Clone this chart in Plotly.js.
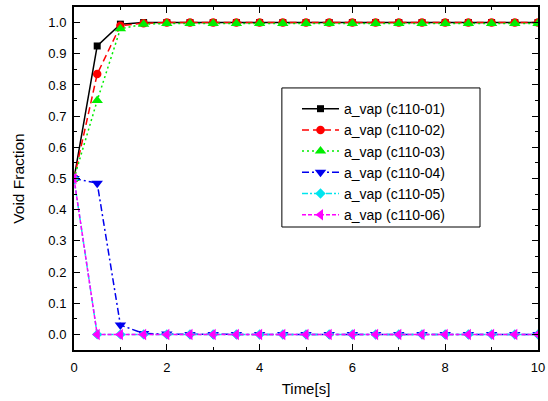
<!DOCTYPE html>
<html><head><meta charset="utf-8">
<script src="https://cdn.plot.ly/plotly-3.0.1.min.js"></script>
<style>html,body{margin:0;padding:0;background:#fff}#c{width:548px;height:401px}</style>
</head><body><div id="c"></div>
<script>
const time = [0,0.5,1,1.5,2,2.5,3,3.5,4,4.5,5,5.5,6,6.5,7,7.5,8,8.5,9,9.5,10];
const c11001 = [0.5,0.925,0.995,1,1,1,1,1,1,1,1,1,1,1,1,1,1,1,1,1,1];
const c11002 = [0.5,0.835,0.99,0.998,1,1,1,1,1,1,1,1,1,1,1,1,1,1,1,1,1];
const c11003 = [0.5,0.75,0.98,0.995,0.997,0.997,0.997,0.997,0.997,0.997,0.997,0.997,0.997,0.997,0.997,0.997,0.997,0.997,0.997,0.997,0.997];
const c11004 = [0.5,0.485,0.03,0.003,0.001,0,0,0,0,0,0,0,0,0,0,0,0,0,0,0,0];
const c11005 = [0.5,0,0,0,0,0,0,0,0,0,0,0,0,0,0,0,0,0,0,0,0];
const c11006 = [0.5,0,0,0,0,0,0,0,0,0,0,0,0,0,0,0,0,0,0,0,0];
const names = ['a_vap (c110-01)','a_vap (c110-02)','a_vap (c110-03)','a_vap (c110-04)','a_vap (c110-05)','a_vap (c110-06)'];
const series = [c11001,c11002,c11003,c11004,c11005,c11006];
const colors = ['#000000','#ff0000','#00ee00','#0000ee','#00e5ee','#ff00ff'];
const symbols = ['square','circle','triangle-up','triangle-down','diamond','triangle-left'];
const sizes = [7,8.5,10,10,8,10];
const dashes = ['solid','7px,4px','2px,3px','7px,3px,2px,3px','6px,2px,2px,2px','4px,2px'];
const F = 'Liberation Sans, Arial, sans-serif';
const traces = series.map((s,i)=>({
  x: time, y: s, name: names[i], type:'scatter', mode:'lines+markers',
  line:{color:colors[i], width:1.5, dash:dashes[i]},
  marker:{symbol:symbols[i], color:colors[i], size:sizes[i], line:{width:0}}
}));
const axisCommon = {showgrid:false, zeroline:false, showline:true, linecolor:'#000', linewidth:2,
  mirror:'ticks', ticks:'inside', ticklen:6, tickwidth:1, tickcolor:'#000',
  tickfont:{family:F, size:13, color:'#000'}};
const layout = {
  width:548, height:401, margin:{l:74,r:10,t:7,b:51}, paper_bgcolor:'#fff', plot_bgcolor:'#fff',
  showlegend:true,
  legend:{x:0.4806, y:0.749, xanchor:'left', yanchor:'top', borderwidth:0,
    bgcolor:'rgba(0,0,0,0)', font:{family:F, size:14, color:'#000'},
    tracegroupgap:0, itemwidth:37},
  shapes:[{type:'rect', xref:'paper', yref:'paper', x0:0.448, x1:0.875, y0:0.3586, y1:0.764,
    line:{color:'#000', width:1}, fillcolor:'#fff', layer:'above'}],
  xaxis: Object.assign({}, axisCommon, {range:[0,10], dtick:2, tick0:0, ticklabelstandoff:4,
    minor:{dtick:1, ticks:'inside', ticklen:3, tickcolor:'#000'},
    title:{text:'Time[s]', font:{family:F, size:15, color:'#000'}, standoff:10}}),
  yaxis: Object.assign({}, axisCommon, {range:[-0.05,1.05], dtick:0.1, tick0:0, tickformat:'.1f', ticklabelstandoff:3,
    minor:{dtick:0.05, ticks:'inside', ticklen:3, tickcolor:'#000'},
    title:{text:'Void Fraction', font:{family:F, size:15.5, color:'#000'}, standoff:20}})
};
Plotly.newPlot('c', traces, layout, {displayModeBar:false});
</script></body></html>
